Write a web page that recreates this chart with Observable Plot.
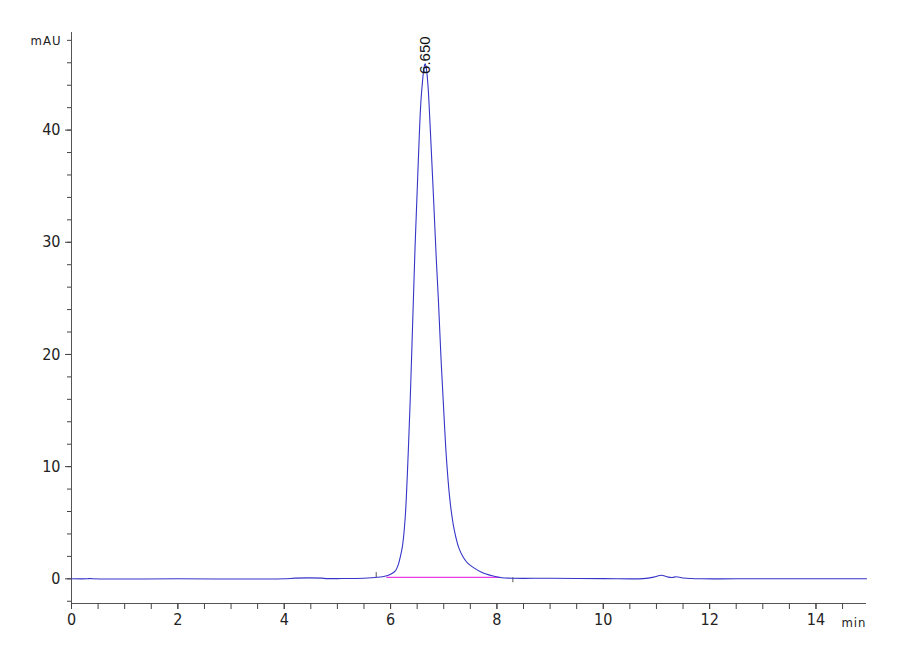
<!DOCTYPE html>
<html>
<head>
<meta charset="utf-8">
<script src="https://cdn.jsdelivr.net/npm/d3@7"></script>
<script src="https://cdn.jsdelivr.net/npm/@observablehq/plot@0.6"></script>
<style>
  html, body { margin: 0; padding: 0; background: #fff; }
  #chart { width: 900px; height: 660px; }
</style>
</head>
<body>
<div id="chart"></div>
<script>
// Retention time (min) and absorbance (mAU)
const times = [0, 0.3, 0.35, 0.4, 2.0, 4.0, 4.2, 4.7, 4.8, 5.0, 5.5, 5.7, 5.85, 5.93, 6.0, 6.09, 6.14, 6.18, 6.22, 6.25, 6.28, 6.30, 6.32, 6.34, 6.37, 6.42, 6.46, 6.50, 6.54, 6.57, 6.60, 6.63, 6.65, 6.67, 6.70, 6.72, 6.76, 6.81, 6.86, 6.90, 6.95, 6.99, 7.02, 7.05, 7.11, 7.16, 7.20, 7.28, 7.37, 7.46, 7.56, 7.72, 7.91, 8.06, 8.3, 9.0, 10.0, 10.75, 10.95, 11.09, 11.22, 11.30, 11.37, 11.5, 11.85, 12.5, 14.95];
const absorbance = [0, 0, 0.03, 0, 0, 0, 0.06, 0.06, 0.02, 0.02, 0.05, 0.12, 0.18, 0.27, 0.4, 0.7, 1.2, 1.9, 2.8, 4.0, 5.8, 7.6, 9.8, 12.2, 16.0, 23.5, 29.5, 34.5, 39.5, 42.5, 44.3, 45.6, 45.9, 45.6, 44.2, 42.7, 38.8, 33.75, 28.5, 24.8, 19.5, 15.9, 13.2, 10.8, 7.3, 5.4, 4.3, 2.8, 1.9, 1.35, 1.0, 0.56, 0.27, 0.12, 0.05, 0.05, 0.02, 0.02, 0.15, 0.32, 0.15, 0.12, 0.18, 0.08, 0.0, 0.0, 0.0];

// Integration baseline under the main peak
const baselineTimes = [5.93, 8.06];
const baselineValues = [0.12, 0.12];

// Event markers on the baseline
const eventTimes = [5.73, 8.30];
const eventLow = [0.1, -0.35];
const eventHigh = [0.55, 0.1];

// Peak annotation
const peakTimes = [6.65];
const peakValues = [45.9];
const peakLabels = ["6.650"];

// Axis ticks
const xMajorTicks = [0, 2, 4, 6, 8, 10, 12, 14];
const xMinorTicks = [0, 0.5, 1, 1.5, 2, 2.5, 3, 3.5, 4, 4.5, 5, 5.5, 6, 6.5, 7, 7.5, 8, 8.5, 9, 9.5, 10, 10.5, 11, 11.5, 12, 12.5, 13, 13.5, 14, 14.5];
const yMajorTicks = [0, 10, 20, 30, 40];
const yMinorTicks = [-2, 0, 2, 4, 6, 8, 10, 12, 14, 16, 18, 20, 22, 24, 26, 28, 30, 32, 34, 36, 38, 40, 42, 44, 46, 48];

const xDomain = [0, 14.95];
const yDomain = [-2.2, 48.7];

const trace = times.map((t, i) => ({t, a: absorbance[i]}));
const baseline = baselineTimes.map((t, i) => ({t, a: baselineValues[i]}));
const events = eventTimes.map((t, i) => ({t, lo: eventLow[i], hi: eventHigh[i]}));
const peaks = peakTimes.map((t, i) => ({t, a: peakValues[i], label: peakLabels[i]}));

const tickFont = "'Liberation Sans Narrow', 'Arial Narrow', 'DejaVu Sans Condensed', 'Liberation Sans', Arial, sans-serif";

const chart = Plot.plot({
  width: 900,
  height: 660,
  marginLeft: 71,
  marginRight: 34,
  marginTop: 32,
  marginBottom: 57,
  style: {fontFamily: tickFont, fontSize: "16px", color: "#222", background: "#fff"},
  x: {domain: xDomain, label: null},
  y: {domain: yDomain, label: null},
  marks: [
    Plot.ruleY([yDomain[0]], {stroke: "#555", strokeWidth: 1}),
    Plot.ruleX([xDomain[0]], {stroke: "#555", strokeWidth: 1}),
    Plot.axisX(xMinorTicks, {tickSize: 6, tickFormat: () => "", label: null, stroke: "#444"}),
    Plot.axisX(xMajorTicks, {tickSize: 6, tickPadding: 4, tickFormat: d => String(d), label: null, stroke: "#444", fontSize: 16}),
    Plot.axisY(yMinorTicks, {tickSize: 4, tickFormat: () => "", label: null, stroke: "#444"}),
    Plot.axisY(yMajorTicks, {tickSize: 6, tickPadding: 5, tickFormat: d => String(d), label: null, stroke: "#444", fontSize: 16}),
    Plot.text(["mAU"], {frameAnchor: "top-left", dx: -10, dy: 8, textAnchor: "end", lineAnchor: "middle", fontSize: 13, fill: "#222"}),
    Plot.text(["min"], {frameAnchor: "bottom-right", dx: 0, dy: 19, textAnchor: "end", lineAnchor: "middle", fontSize: 13, fill: "#222"}),
    Plot.line(baseline, {x: "t", y: "a", stroke: "#e83ee8", strokeWidth: 1.2}),
    Plot.ruleX(events, {x: "t", y1: "lo", y2: "hi", stroke: "#555", strokeWidth: 1}),
    Plot.line(trace, {x: "t", y: "a", stroke: "#3535c8", strokeWidth: 1.1, curve: "catmull-rom"}),
    Plot.text(peaks, {x: "t", y: "a", text: "label", rotate: -90, textAnchor: "start", lineAnchor: "middle", dy: 10, fontSize: 15, fill: "#111", fontFamily: "'Liberation Sans', Arial, sans-serif"})
  ]
});

document.getElementById("chart").appendChild(chart);
d3.select(chart).selectAll("text").filter(function() { return this.textContent === "mAU" || this.textContent === "min"; }).attr("letter-spacing", "1px");
</script>
</body>
</html>
